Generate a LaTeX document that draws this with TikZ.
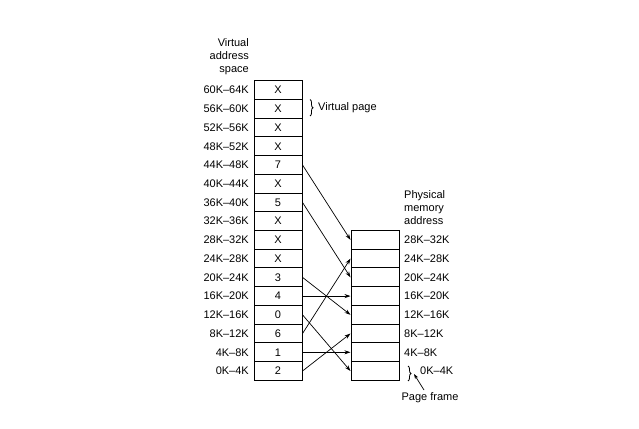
\documentclass[tikz,border=0pt]{standalone}
\usepackage{fontspec}
\setmainfont{Liberation Sans}
\usetikzlibrary{arrows.meta,decorations.pathreplacing}
\begin{document}
\begin{tikzpicture}[x=1pt,y=-1pt,
  font=\fontsize{11}{13}\selectfont,
  cell/.style={draw, line width=1pt, minimum width=48pt, minimum height=18.73pt, inner sep=0pt, anchor=center},
  lbl/.style={inner sep=0pt},
  map/.style={-{Stealth[length=6pt,width=4pt]}, line width=0.7pt},
  brc/.style={decorate, decoration={brace, amplitude=3pt}, line width=0.8pt}]
\useasboundingbox (0,0) rectangle (639,428);
% virtual pages
\foreach \i/\t/\r in {0/2/0K--4K,1/1/4K--8K,2/6/8K--12K,3/0/12K--16K,4/4/16K--20K,5/3/20K--24K,6/X/24K--28K,7/X/28K--32K,8/X/32K--36K,9/5/36K--40K,10/X/40K--44K,11/7/44K--48K,12/X/48K--52K,13/X/52K--56K,14/X/56K--60K,15/X/60K--64K}{
  \node[cell] (v\i) at (278, 371-\i*18.73) {\t};
  \node[lbl, anchor=east] (vl\i) at (249, 371-\i*18.73) {\r};
}
% physical frames
\foreach \j in {0,...,7}{
  \node[cell] (p\j) at (375, 371-\j*18.73) {};
}
\foreach \j/\r in {1/4K--8K,2/8K--12K,3/12K--16K,4/16K--20K,5/20K--24K,6/24K--28K,7/28K--32K}{
  \node[lbl, anchor=west] (pl\j) at (404, 371-\j*18.73) {\r};
}
\node[lbl, anchor=west] (pl0) at (420, 371) {0K--4K};
% headings
\node[lbl, anchor=east, align=right] (vhead) at (249, 57) {Virtual\\address\\space};
\node[lbl, anchor=west, align=left] (phead) at (404, 208) {Physical\\memory\\address};
% virtual page brace
\coordinate (vb1) at (310, 99.5);
\coordinate (vb2) at (310, 116);
\draw[brc] (vb1) -- (vb2);
\node[lbl, anchor=west] (vpage) at (318, 108) {Virtual page};
% page frame brace
\coordinate (pb1) at (408, 366);
\coordinate (pb2) at (408, 381);
\draw[brc] (pb1) -- (pb2);
\coordinate (pbtip) at (414, 374);
\node[lbl, anchor=north] (pframe) at (430, 392) {Page frame};
\coordinate (pfs) at (424, 390);
\draw[-{Stealth[length=5pt,width=3.5pt]}, line width=0.7pt] (pfs) -- (pbtip);
% mappings
\draw[map] (v11.east) -- (p7.west);
\draw[map] (v9.east) -- (p5.west);
\draw[map] (v5.east) -- (p3.west);
\draw[map] (v4.east) -- (p4.west);
\draw[map] (v3.east) -- (p0.west);
\draw[map] (v2.east) -- (p6.west);
\draw[map] (v1.east) -- (p1.west);
\draw[map] (v0.east) -- (p2.west);
\end{tikzpicture}
\end{document}
